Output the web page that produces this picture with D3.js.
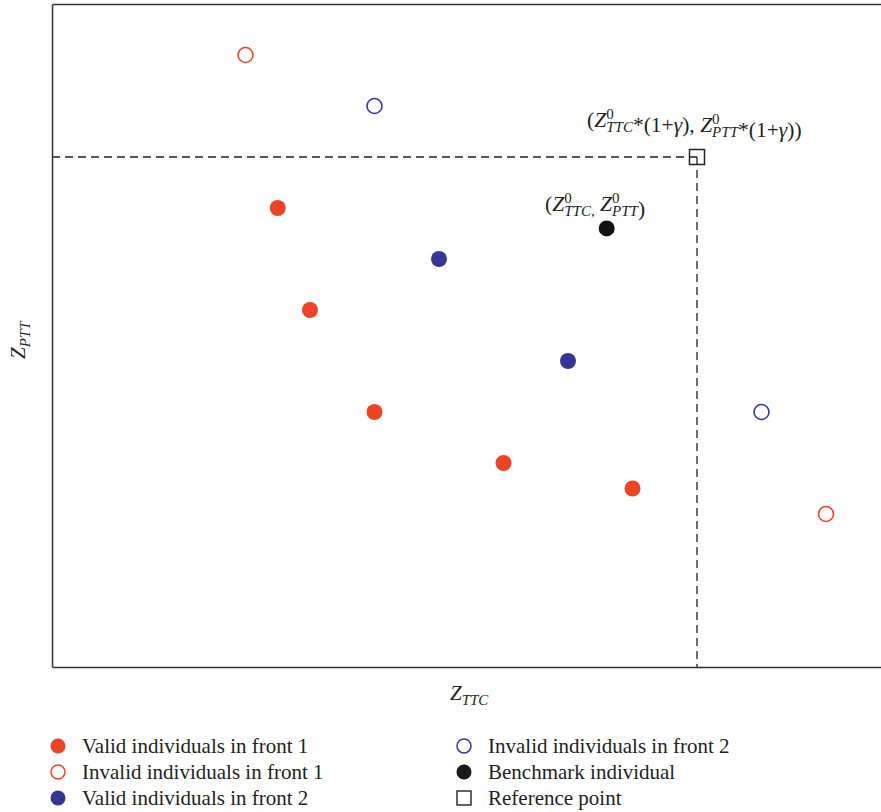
<!DOCTYPE html>
<html>
<head>
<meta charset="utf-8">
<script src="https://cdn.jsdelivr.net/npm/d3@7"></script>
<style>
  html, body { margin: 0; padding: 0; background: #fff; }
  svg { display: block; }
  text { font-family: "Liberation Serif", "DejaVu Serif", serif; fill: #231f20; }
</style>
</head>
<body>
<script>
// ---- data (Z_TTC, Z_PTT in relative units) ----
const validFront1   = [[3.5, 9], [4, 7], [5, 5], [7, 4], [9, 3.5]];
const invalidFront1 = [[3, 12], [12, 3]];
const validFront2   = [[6, 8], [8, 6]];
const invalidFront2 = [[5, 11], [11, 5]];
const benchmark     = [[8.6, 8.6]];
const referencePoint = [[10, 10]];
const legendLabels = [
  "Valid individuals in front 1",
  "Invalid individuals in front 1",
  "Valid individuals in front 2",
  "Invalid individuals in front 2",
  "Benchmark individual",
  "Reference point"
];

const W = 881, H = 812;
const RED = "#ee4426", BLUE = "#363696", BLACK = "#111";
const svg = d3.select("body").append("svg").attr("width", W).attr("height", H);

const x = d3.scaleLinear().domain([0, 13]).range([52, 52 + 13 * 64.5]);
const y = d3.scaleLinear().domain([0, 13]).range([667, 4]);

// frame (axes without ticks)
svg.append("g").attr("transform", `translate(0,${y(0)})`)
  .call(d3.axisBottom(x).ticks(0).tickSizeOuter(0))
  .call(g => g.select(".domain").attr("stroke", "#333").attr("stroke-width", 1.5));
svg.append("g").attr("transform", `translate(0,${y(13)})`)
  .call(d3.axisTop(x).ticks(0).tickSizeOuter(0))
  .call(g => g.select(".domain").attr("stroke", "#333").attr("stroke-width", 1.5));
svg.append("g").attr("transform", `translate(${x(0)},0)`)
  .call(d3.axisLeft(y).ticks(0).tickSizeOuter(0))
  .call(g => g.select(".domain").attr("stroke", "#333").attr("stroke-width", 1.5));

// dashed guide lines to reference point
const rp = referencePoint[0];
svg.append("line").attr("x1", x(0)).attr("x2", x(rp[0])).attr("y1", y(rp[1])).attr("y2", y(rp[1]))
  .attr("stroke", "#222").attr("stroke-width", 1.3).attr("stroke-dasharray", "8,5");
svg.append("line").attr("x1", x(rp[0])).attr("x2", x(rp[0])).attr("y1", y(rp[1])).attr("y2", y(0))
  .attr("stroke", "#222").attr("stroke-width", 1.3).attr("stroke-dasharray", "8,5");

// reference point square
svg.selectAll(".ref").data(referencePoint).join("rect")
  .attr("x", d => x(d[0]) - 7.5).attr("y", d => y(d[1]) - 7.5)
  .attr("width", 15).attr("height", 15)
  .attr("fill", "none").attr("stroke", "#222").attr("stroke-width", 1.5);

function dots(data, color, filled) {
  svg.append("g").selectAll("circle").data(data).join("circle")
    .attr("cx", d => x(d[0])).attr("cy", d => y(d[1]))
    .attr("r", filled ? 8 : 7.5)
    .attr("fill", filled ? color : "none")
    .attr("stroke", filled ? "none" : color)
    .attr("stroke-width", 1.6);
}
dots(validFront1, RED, true);
dots(invalidFront1, RED, false);
dots(validFront2, BLUE, true);
dots(invalidFront2, BLUE, false);
dots(benchmark, BLACK, true);

const SUB = 0.7;
// Helper: Z with stacked superscript 0 and subscript
function zStack(t, sub, fs) {
  t.append("tspan").attr("font-style", "italic").text("Z");
  t.append("tspan").attr("font-size", fs * SUB).attr("dy", -fs * 0.36).text("0");
  t.append("tspan").attr("font-size", fs * SUB).attr("font-style", "italic")
    .attr("dx", -fs * SUB * 0.5).attr("dy", fs * 0.6).text(sub);
  t.append("tspan").attr("dy", -fs * 0.24).text("");
}

// annotation 1 (reference point)
{
  const fs = 21.5;
  const t = svg.append("text").attr("x", 587).attr("y", 127).attr("font-size", fs);
  t.append("tspan").text("(");
  zStack(t, "TTC", fs);
  t.append("tspan").text("*(1+");
  t.append("tspan").attr("font-style", "italic").text("γ");
  t.append("tspan").text("), ");
  zStack(t, "PTT", fs);
  t.append("tspan").text("*(1+");
  t.append("tspan").attr("font-style", "italic").text("γ");
  t.append("tspan").text("))");
}
// annotation 2 (benchmark)
{
  const fs = 21.5;
  const t = svg.append("text").attr("x", 545).attr("y", 211).attr("font-size", fs);
  t.append("tspan").text("(");
  t.append("tspan").attr("font-style", "italic").text("Z");
  t.append("tspan").attr("font-size", fs * SUB).attr("dy", -fs * 0.36).text("0");
  t.append("tspan").attr("font-size", fs * SUB).attr("font-style", "italic")
    .attr("dx", -fs * SUB * 0.5).attr("dy", fs * 0.6).text("TTC,");
  t.append("tspan").attr("dy", -fs * 0.24).text(" ");
  zStack(t, "PTT", fs);
  t.append("tspan").text(")");
}

// axis labels
{
  const t = svg.append("text").attr("x", 450).attr("y", 700).attr("font-size", 21);
  t.append("tspan").attr("font-style", "italic").text("Z");
  t.append("tspan").attr("font-style", "italic").attr("font-size", 15).attr("dy", 5).text("TTC");
}
{
  const t = svg.append("text").attr("transform", "translate(25,359) rotate(-90)").attr("font-size", 21);
  t.append("tspan").attr("font-style", "italic").text("Z");
  t.append("tspan").attr("font-style", "italic").attr("font-size", 15).attr("dy", 5).text("PTT");
}

// legend
const legendItems = [
  { label: legendLabels[0], col: 0, row: 0, type: "fill", color: RED },
  { label: legendLabels[1], col: 0, row: 1, type: "open", color: RED },
  { label: legendLabels[2], col: 0, row: 2, type: "fill", color: BLUE },
  { label: legendLabels[3], col: 1, row: 0, type: "open", color: BLUE },
  { label: legendLabels[4], col: 1, row: 1, type: "fill", color: "#1a1a1a" },
  { label: legendLabels[5], col: 1, row: 2, type: "square", color: "#222" }
];
const colX = [58, 464], rowY = [746, 772, 798];
const lg = svg.append("g").selectAll("g").data(legendItems).join("g")
  .attr("transform", d => `translate(${colX[d.col]},${rowY[d.row]})`);
lg.filter(d => d.type !== "square").append("circle")
  .attr("r", d => d.type === "fill" ? 7.5 : 7)
  .attr("fill", d => d.type === "fill" ? d.color : "none")
  .attr("stroke", d => d.type === "fill" ? "none" : d.color)
  .attr("stroke-width", 1.5);
lg.filter(d => d.type === "square").append("rect")
  .attr("x", -7).attr("y", -7).attr("width", 14).attr("height", 14)
  .attr("fill", "none").attr("stroke", d => d.color).attr("stroke-width", 1.4);
lg.append("text").attr("x", 24).attr("y", 7).attr("font-size", 21).text(d => d.label);
</script>
</body>
</html>
